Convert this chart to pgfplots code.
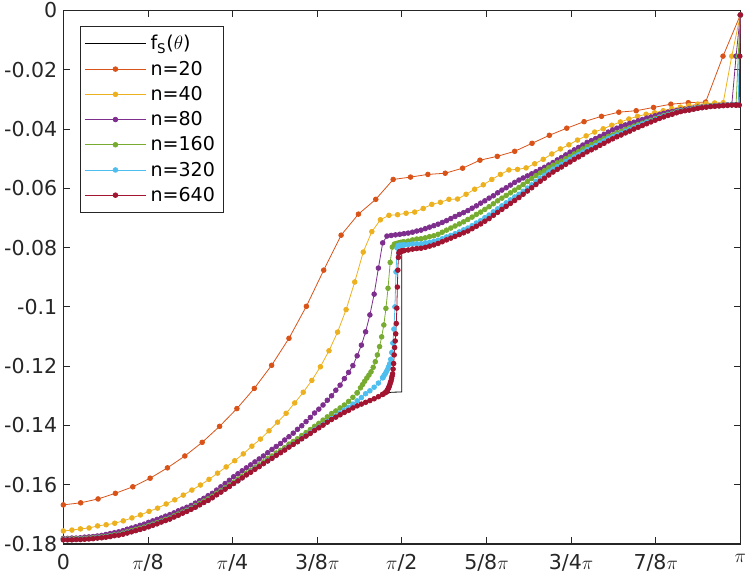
\documentclass[border=0pt]{standalone}
\usepackage{fontspec}
\setmainfont{DejaVu Sans}
\usepackage{pgfplots}
\pgfplotsset{compat=1.18}
\usepackage{pgfplotstable}
\usetikzlibrary{calc}

\definecolor{c20}{rgb}{0.850,0.325,0.098}
\definecolor{c40}{rgb}{0.929,0.694,0.125}
\definecolor{c80}{rgb}{0.494,0.184,0.556}
\definecolor{c160}{rgb}{0.466,0.674,0.188}
\definecolor{c320}{rgb}{0.301,0.745,0.933}
\definecolor{c640}{rgb}{0.635,0.078,0.184}
\definecolor{axgray}{rgb}{0.15,0.15,0.15}

\pgfplotsset{
  ser/.style={color=#1, line width=0.6pt, mark=*, mark size=1.75pt, mark options={solid, fill=#1}},
}

\pgfplotstableread{
t y80 y160 y320 y640
0.0000 -0.1781 -0.1783 -0.1785 -0.1786
0.0063 -0.1781 -0.1783 -0.1785 -0.1786
0.0126 -0.1780 -0.1783 -0.1785 -0.1786
0.0189 -0.1780 -0.1782 -0.1784 -0.1785
0.0252 -0.1779 -0.1782 -0.1784 -0.1785
0.0314 -0.1777 -0.1781 -0.1783 -0.1784
0.0377 -0.1776 -0.1780 -0.1782 -0.1783
0.0440 -0.1775 -0.1779 -0.1781 -0.1782
0.0503 -0.1773 -0.1777 -0.1779 -0.1780
0.0566 -0.1771 -0.1776 -0.1778 -0.1779
0.0629 -0.1768 -0.1774 -0.1776 -0.1777
0.0692 -0.1765 -0.1772 -0.1774 -0.1775
0.0755 -0.1762 -0.1769 -0.1771 -0.1772
0.0818 -0.1759 -0.1767 -0.1769 -0.1770
0.0881 -0.1755 -0.1763 -0.1766 -0.1767
0.0943 -0.1750 -0.1759 -0.1762 -0.1763
0.1006 -0.1746 -0.1755 -0.1758 -0.1759
0.1069 -0.1742 -0.1751 -0.1754 -0.1755
0.1132 -0.1737 -0.1747 -0.1750 -0.1751
0.1195 -0.1733 -0.1743 -0.1746 -0.1747
0.1258 -0.1727 -0.1738 -0.1741 -0.1742
0.1321 -0.1722 -0.1733 -0.1736 -0.1737
0.1384 -0.1717 -0.1728 -0.1731 -0.1732
0.1447 -0.1712 -0.1722 -0.1725 -0.1726
0.1509 -0.1706 -0.1717 -0.1720 -0.1721
0.1572 -0.1701 -0.1712 -0.1715 -0.1716
0.1635 -0.1695 -0.1705 -0.1708 -0.1709
0.1698 -0.1688 -0.1699 -0.1702 -0.1703
0.1761 -0.1682 -0.1692 -0.1695 -0.1696
0.1824 -0.1676 -0.1686 -0.1689 -0.1690
0.1887 -0.1670 -0.1679 -0.1682 -0.1683
0.1950 -0.1662 -0.1671 -0.1675 -0.1676
0.2013 -0.1654 -0.1663 -0.1667 -0.1668
0.2075 -0.1646 -0.1655 -0.1659 -0.1660
0.2138 -0.1637 -0.1648 -0.1652 -0.1653
0.2201 -0.1629 -0.1639 -0.1643 -0.1644
0.2264 -0.1618 -0.1629 -0.1633 -0.1634
0.2327 -0.1607 -0.1620 -0.1624 -0.1625
0.2390 -0.1596 -0.1610 -0.1614 -0.1615
0.2453 -0.1585 -0.1601 -0.1605 -0.1606
0.2516 -0.1573 -0.1591 -0.1595 -0.1596
0.2579 -0.1563 -0.1581 -0.1586 -0.1587
0.2642 -0.1553 -0.1571 -0.1576 -0.1577
0.2704 -0.1543 -0.1561 -0.1566 -0.1567
0.2767 -0.1533 -0.1552 -0.1557 -0.1558
0.2830 -0.1523 -0.1542 -0.1547 -0.1548
0.2893 -0.1513 -0.1533 -0.1538 -0.1539
0.2956 -0.1503 -0.1523 -0.1528 -0.1529
0.3019 -0.1492 -0.1512 -0.1519 -0.1520
0.3082 -0.1481 -0.1503 -0.1510 -0.1511
0.3145 -0.1471 -0.1493 -0.1500 -0.1501
0.3208 -0.1461 -0.1484 -0.1491 -0.1492
0.3270 -0.1449 -0.1475 -0.1482 -0.1483
0.3333 -0.1438 -0.1463 -0.1472 -0.1473
0.3396 -0.1426 -0.1454 -0.1463 -0.1464
0.3459 -0.1413 -0.1445 -0.1454 -0.1455
0.3522 -0.1401 -0.1434 -0.1443 -0.1445
0.3585 -0.1387 -0.1424 -0.1434 -0.1436
0.3648 -0.1373 -0.1414 -0.1425 -0.1427
0.3711 -0.1358 -0.1403 -0.1415 -0.1417
0.3774 -0.1345 -0.1393 -0.1406 -0.1408
0.3836 -0.1331 -0.1382 -0.1397 -0.1399
0.3899 -0.1315 -0.1371 -0.1387 -0.1389
0.3962 -0.1300 -0.1360 -0.1377 -0.1380
0.4025 -0.1281 -0.1351 -0.1368 -0.1372
0.4088 -0.1264 -0.1341 -0.1358 -0.1364
0.4151 -0.1242 -0.1331 -0.1348 -0.1356
0.4214 -0.1221 -0.1319 -0.1339 -0.1349
0.4277 -0.1198 -0.1305 -0.1328 -0.1341
0.4340 -0.1165 -0.1290 -0.1317 -0.1334
0.4403 -0.1129 nan -0.1306 -0.1328
0.4465 -0.1084 nan -0.1293 -0.1322
0.4528 -0.1027 nan -0.1283 -0.1316
0.4591 -0.0957 nan -0.1271 -0.1310
0.4654 -0.0869 nan -0.1257 -0.1303
0.4717 -0.0784 nan -0.1239 -0.1295
0.4780 -0.0761 nan nan nan
0.4843 -0.0759 nan nan nan
0.4906 -0.0757 nan nan nan
0.4969 -0.0755 nan nan nan
0.5031 -0.0753 -0.0781 -0.0791 -0.0810
0.5094 -0.0751 -0.0778 -0.0790 -0.0808
0.5157 -0.0748 -0.0774 -0.0788 -0.0805
0.5220 -0.0744 -0.0771 -0.0787 -0.0803
0.5283 -0.0741 -0.0770 -0.0787 -0.0802
0.5346 -0.0736 -0.0767 -0.0784 -0.0799
0.5409 -0.0731 -0.0763 -0.0782 -0.0795
0.5472 -0.0726 -0.0760 -0.0779 -0.0791
0.5535 -0.0721 -0.0755 -0.0775 -0.0786
0.5597 -0.0715 -0.0748 -0.0770 -0.0780
0.5660 -0.0709 -0.0741 -0.0764 -0.0774
0.5723 -0.0702 -0.0734 -0.0759 -0.0768
0.5786 -0.0695 -0.0727 -0.0753 -0.0762
0.5849 -0.0688 -0.0720 -0.0747 -0.0756
0.5912 -0.0682 -0.0713 -0.0740 -0.0750
0.5975 -0.0675 -0.0705 -0.0734 -0.0744
0.6038 -0.0667 -0.0697 -0.0726 -0.0736
0.6101 -0.0659 -0.0688 -0.0717 -0.0728
0.6164 -0.0650 -0.0680 -0.0709 -0.0720
0.6226 -0.0642 -0.0671 -0.0699 -0.0711
0.6289 -0.0633 -0.0662 -0.0690 -0.0702
0.6352 -0.0625 -0.0652 -0.0679 -0.0691
0.6415 -0.0615 -0.0642 -0.0669 -0.0681
0.6478 -0.0606 -0.0633 -0.0659 -0.0671
0.6541 -0.0598 -0.0624 -0.0649 -0.0661
0.6604 -0.0589 -0.0615 -0.0639 -0.0651
0.6667 -0.0580 -0.0606 -0.0629 -0.0641
0.6730 -0.0572 -0.0597 -0.0620 -0.0631
0.6792 -0.0565 -0.0587 -0.0610 -0.0620
0.6855 -0.0558 -0.0577 -0.0599 -0.0609
0.6918 -0.0551 -0.0567 -0.0588 -0.0598
0.6981 -0.0544 -0.0557 -0.0577 -0.0587
0.7044 -0.0536 -0.0548 -0.0566 -0.0576
0.7107 -0.0529 -0.0540 -0.0556 -0.0566
0.7170 -0.0521 -0.0530 -0.0545 -0.0555
0.7233 -0.0513 -0.0522 -0.0535 -0.0545
0.7296 -0.0504 -0.0514 -0.0527 -0.0536
0.7358 -0.0496 -0.0508 -0.0519 -0.0528
0.7421 -0.0487 -0.0500 -0.0510 -0.0519
0.7484 -0.0478 -0.0493 -0.0502 -0.0511
0.7547 -0.0470 -0.0484 -0.0494 -0.0502
0.7610 -0.0462 -0.0476 -0.0486 -0.0494
0.7673 -0.0454 -0.0467 -0.0478 -0.0486
0.7736 -0.0445 -0.0459 -0.0469 -0.0477
0.7799 -0.0439 -0.0452 -0.0462 -0.0470
0.7862 -0.0432 -0.0446 -0.0455 -0.0463
0.7925 -0.0425 -0.0439 -0.0447 -0.0455
0.7987 -0.0418 -0.0432 -0.0440 -0.0448
0.8050 -0.0410 -0.0425 -0.0432 -0.0440
0.8113 -0.0403 -0.0420 -0.0426 -0.0433
0.8176 -0.0397 -0.0413 -0.0420 -0.0426
0.8239 -0.0391 -0.0408 -0.0414 -0.0420
0.8302 -0.0386 -0.0401 -0.0407 -0.0413
0.8365 -0.0381 -0.0396 -0.0401 -0.0407
0.8428 -0.0377 -0.0390 -0.0395 -0.0400
0.8491 -0.0372 -0.0385 -0.0389 -0.0394
0.8553 -0.0368 -0.0380 -0.0383 -0.0388
0.8616 -0.0363 -0.0375 -0.0377 -0.0382
0.8679 -0.0359 -0.0370 -0.0373 -0.0376
0.8742 -0.0355 -0.0364 -0.0367 -0.0370
0.8805 -0.0351 -0.0359 -0.0361 -0.0364
0.8868 -0.0347 -0.0354 -0.0356 -0.0359
0.8931 -0.0343 -0.0350 -0.0352 -0.0354
0.8994 -0.0341 -0.0346 -0.0348 -0.0350
0.9057 -0.0338 -0.0342 -0.0343 -0.0345
0.9119 -0.0335 -0.0338 -0.0339 -0.0341
0.9182 -0.0333 -0.0336 -0.0337 -0.0338
0.9245 -0.0331 -0.0334 -0.0335 -0.0336
0.9308 -0.0329 -0.0331 -0.0332 -0.0333
0.9371 -0.0326 -0.0328 -0.0329 -0.0330
0.9434 -0.0325 -0.0326 -0.0327 -0.0328
0.9497 -0.0324 -0.0324 -0.0325 -0.0326
0.9560 -0.0322 -0.0322 -0.0323 -0.0324
0.9623 -0.0321 -0.0322 -0.0322 -0.0323
0.9686 -0.0320 -0.0321 -0.0321 -0.0322
0.9748 -0.0319 -0.0320 -0.0320 -0.0321
0.9811 -0.0318 -0.0319 -0.0319 -0.0320
0.9874 -0.0317 -0.0318 -0.0318 -0.0319
0.9937 -0.0154 -0.0318 -0.0318 -0.0319
1.0000 -0.0015 nan nan nan
}\smooth

\begin{document}
\begin{tikzpicture}
\begin{axis}[
  scale only axis, width=507.75pt, height=400.1pt,
  xmin=0, xmax=1, ymin=-0.18, ymax=0,
  xtick={0,0.125,0.25,0.375,0.5,0.625,0.75,0.875,1},
  xticklabels={0,$\pi$/8,$\pi$/4,3/8$\pi$,$\pi$/2,5/8$\pi$,3/4$\pi$,7/8$\pi$,$\pi$},
  ytick={-0.18,-0.16,-0.14,-0.12,-0.1,-0.08,-0.06,-0.04,-0.02,0},
  yticklabels={-0.18,-0.16,-0.14,-0.12,-0.1,-0.08,-0.06,-0.04,-0.02,0},
  tick align=inside, tick pos=both,
  major tick length=5pt,
  tick style={axgray, line width=0.6pt},
  axis line style={axgray, line width=0.8pt},
  tick label style={font=\fontsize{15.4}{18}\selectfont, text=axgray},
  xticklabel style={yshift=-4pt},
  yticklabel style={xshift=-1pt},
  clip=false,
  unbounded coords=jump,
  legend cell align=left,
  legend style={at={(0.0246,0.971)}, anchor=north west, draw=axgray, line width=0.6pt,
    fill=white, font=\fontsize{14.3}{17}\selectfont, row sep=2.8pt, inner xsep=3pt, inner ysep=4.8pt,
    nodes={inner xsep=3pt}},
  legend image code/.code={\draw[mark repeat=2,mark phase=2,#1] plot coordinates {(0pt,0pt) (23pt,0pt) (46pt,0pt)};},
]
\coordinate (SW) at (rel axis cs:0,0);
\coordinate (NE) at (rel axis cs:1,1);

\addplot[black, line width=0.6pt] coordinates {
(0,-0.1787) (0.0247,-0.1785) (0.0542,-0.1780) (0.0838,-0.1770) (0.1177,-0.1749) (0.1576,-0.1716)
(0.1916,-0.1680) (0.2167,-0.1650) (0.2462,-0.1604) (0.2950,-0.1530) (0.3452,-0.1456) (0.3939,-0.1383)
(0.4161,-0.1355) (0.4338,-0.1334) (0.4530,-0.1316) (0.4678,-0.1302) (0.4796,-0.1291) (0.4841,-0.1288)
(0.5,-0.1287) (0.5,-0.0816) (0.4951,-0.0816) (0.5,-0.0815) (0.5313,-0.0803) (0.5520,-0.0788)
(0.5756,-0.0766) (0.6007,-0.0741) (0.6259,-0.0707) (0.6495,-0.0668) (0.6746,-0.0629) (0.6997,-0.0585)
(0.7233,-0.0547) (0.7485,-0.0511) (0.7736,-0.0477) (0.7928,-0.0456) (0.8120,-0.0432) (0.8371,-0.0407)
(0.8622,-0.0381) (0.8858,-0.0359) (0.9109,-0.0343) (0.9360,-0.0331) (0.9597,-0.0323) (0.9848,-0.0320)
(1,-0.0319)};
\addlegendentry{f\textsubscript{S}($\theta$)}

\addplot[ser=c20] coordinates {
(0,-0.1668) (0.0256,-0.1661) (0.0513,-0.1648) (0.0769,-0.1629) (0.1026,-0.1607) (0.1282,-0.1578)
(0.1538,-0.1543) (0.1795,-0.1503) (0.2051,-0.1457) (0.2308,-0.1403) (0.2564,-0.1343) (0.2821,-0.1275)
(0.3077,-0.1197) (0.3333,-0.1106) (0.3590,-0.0998) (0.3846,-0.0876) (0.4103,-0.0758) (0.4359,-0.0687)
(0.4615,-0.0637) (0.4872,-0.0570) (0.5128,-0.0562) (0.5385,-0.0553) (0.5641,-0.0549) (0.5897,-0.0532)
(0.6154,-0.0505) (0.6410,-0.0492) (0.6667,-0.0475) (0.6923,-0.0448) (0.7179,-0.0421) (0.7436,-0.0397)
(0.7692,-0.0375) (0.7949,-0.0357) (0.8205,-0.0343) (0.8462,-0.0338) (0.8718,-0.0327) (0.8974,-0.0316)
(0.9231,-0.0311) (0.9487,-0.0309) (0.9744,-0.0154) (1,-0.0015)};
\addlegendentry{n=20}

\addplot[ser=c40] coordinates {
(0,-0.1756) (0.0127,-0.1753) (0.0253,-0.1749) (0.0380,-0.1746) (0.0506,-0.1739) (0.0633,-0.1735)
(0.0759,-0.1730) (0.0886,-0.1722) (0.1013,-0.1712) (0.1139,-0.1702) (0.1266,-0.1690) (0.1392,-0.1679)
(0.1519,-0.1665) (0.1646,-0.1651) (0.1772,-0.1635) (0.1899,-0.1618) (0.2025,-0.1601) (0.2152,-0.1582)
(0.2278,-0.1561) (0.2405,-0.1540) (0.2532,-0.1519) (0.2658,-0.1496) (0.2785,-0.1470) (0.2911,-0.1446)
(0.3038,-0.1418) (0.3165,-0.1389) (0.3291,-0.1359) (0.3418,-0.1324) (0.3544,-0.1288) (0.3671,-0.1248)
(0.3797,-0.1202) (0.3924,-0.1148) (0.4051,-0.1085) (0.4177,-0.1009) (0.4304,-0.0916) (0.4430,-0.0815)
(0.4557,-0.0746) (0.4684,-0.0706) (0.4810,-0.0691) (0.4937,-0.0689) (0.5063,-0.0684) (0.5190,-0.0680)
(0.5316,-0.0668) (0.5443,-0.0654) (0.5570,-0.0647) (0.5696,-0.0637) (0.5823,-0.0636) (0.5949,-0.0620)
(0.6076,-0.0603) (0.6203,-0.0588) (0.6329,-0.0570) (0.6456,-0.0553) (0.6582,-0.0538) (0.6709,-0.0536)
(0.6835,-0.0531) (0.6962,-0.0517) (0.7089,-0.0502) (0.7215,-0.0484) (0.7342,-0.0467) (0.7468,-0.0453)
(0.7595,-0.0437) (0.7722,-0.0423) (0.7848,-0.0410) (0.7975,-0.0399) (0.8101,-0.0387) (0.8228,-0.0376)
(0.8354,-0.0366) (0.8481,-0.0357) (0.8608,-0.0350) (0.8734,-0.0345) (0.8861,-0.0338) (0.8987,-0.0331)
(0.9114,-0.0326) (0.9241,-0.0321) (0.9367,-0.0316) (0.9494,-0.0314) (0.9620,-0.0312) (0.9747,-0.0311)
(0.9873,-0.0154) (1,-0.0015)};
\addlegendentry{n=40}

\addplot[ser=c80] table[x=t, y=y80] {\smooth};
\addlegendentry{n=80}

\addplot[ser=c160] table[x=t, y=y160] {\smooth};
\addlegendentry{n=160}
\addplot[ser=c160, forget plot] coordinates {
(0.4340,-0.1290) (0.4389,-0.1273) (0.4420,-0.1262) (0.4451,-0.1251) (0.4483,-0.1240) (0.4514,-0.1230)
(0.4545,-0.1219) (0.4577,-0.1204) (0.4608,-0.1185) (0.4639,-0.1162) (0.4671,-0.1134) (0.4702,-0.1101)
(0.4734,-0.1061) (0.4765,-0.1005) (0.4796,-0.0937) (0.4828,-0.0850) (0.4859,-0.0798) (0.4890,-0.0788)
(0.4922,-0.0786) (0.4953,-0.0784) (0.4984,-0.0782) (0.5016,-0.0781) (0.5031,-0.0781)};
\addplot[ser=c160, forget plot] coordinates {(0.9937,-0.0318) (0.9969,-0.0154) (1,-0.0015)};

\addplot[ser=c320] table[x=t, y=y320] {\smooth};
\addlegendentry{n=320}
\addplot[ser=c320, forget plot] coordinates {
(0.4717,-0.1239) (0.4726,-0.1236) (0.4742,-0.1230) (0.4757,-0.1225) (0.4773,-0.1218) (0.4789,-0.1211)
(0.4804,-0.1202) (0.4820,-0.1192) (0.4836,-0.1177) (0.4851,-0.1154) (0.4867,-0.1122) (0.4883,-0.1075)
(0.4898,-0.1000) (0.4914,-0.0882) (0.4930,-0.0801) (0.4945,-0.0793) (0.4961,-0.0792) (0.4977,-0.0792)
(0.4992,-0.0792) (0.5008,-0.0792) (0.5031,-0.0791)};
\addplot[ser=c320, forget plot] coordinates {(0.9937,-0.0318) (0.9969,-0.0318) (0.9984,-0.0154) (1,-0.0015)};

\addplot[ser=c640] table[x=t, y=y640] {\smooth};
\addlegendentry{n=640}
\addplot[ser=c640, forget plot] coordinates {
(0.4717,-0.1295) (0.4754,-0.1290) (0.4762,-0.1288) (0.4769,-0.1287) (0.4777,-0.1285) (0.4785,-0.1282)
(0.4793,-0.1278) (0.4801,-0.1275) (0.4808,-0.1271) (0.4816,-0.1267) (0.4824,-0.1261) (0.4832,-0.1255)
(0.4840,-0.1250) (0.4848,-0.1242) (0.4855,-0.1234) (0.4863,-0.1226) (0.4871,-0.1210) (0.4879,-0.1191)
(0.4887,-0.1162) (0.4894,-0.1137) (0.4902,-0.1115) (0.4910,-0.1091) (0.4918,-0.1056) (0.4926,-0.1004)
(0.4934,-0.0933) (0.4941,-0.0876) (0.4949,-0.0833) (0.4957,-0.0818) (0.4965,-0.0814) (0.4973,-0.0813)
(0.4980,-0.0813) (0.4988,-0.0812) (0.4996,-0.0812) (0.5004,-0.0811) (0.5031,-0.0810)};
\addplot[ser=c640, forget plot] coordinates {(0.9937,-0.0319) (0.9984,-0.0319) (0.9992,-0.0154) (1,-0.0015)};
\end{axis}
\pgfresetboundingbox
\path[use as bounding box] ($(SW)+(-47.5pt,-24.75pt)$) rectangle ($(NE)+(6.5pt,7.9pt)$);
\end{tikzpicture}
\end{document}
